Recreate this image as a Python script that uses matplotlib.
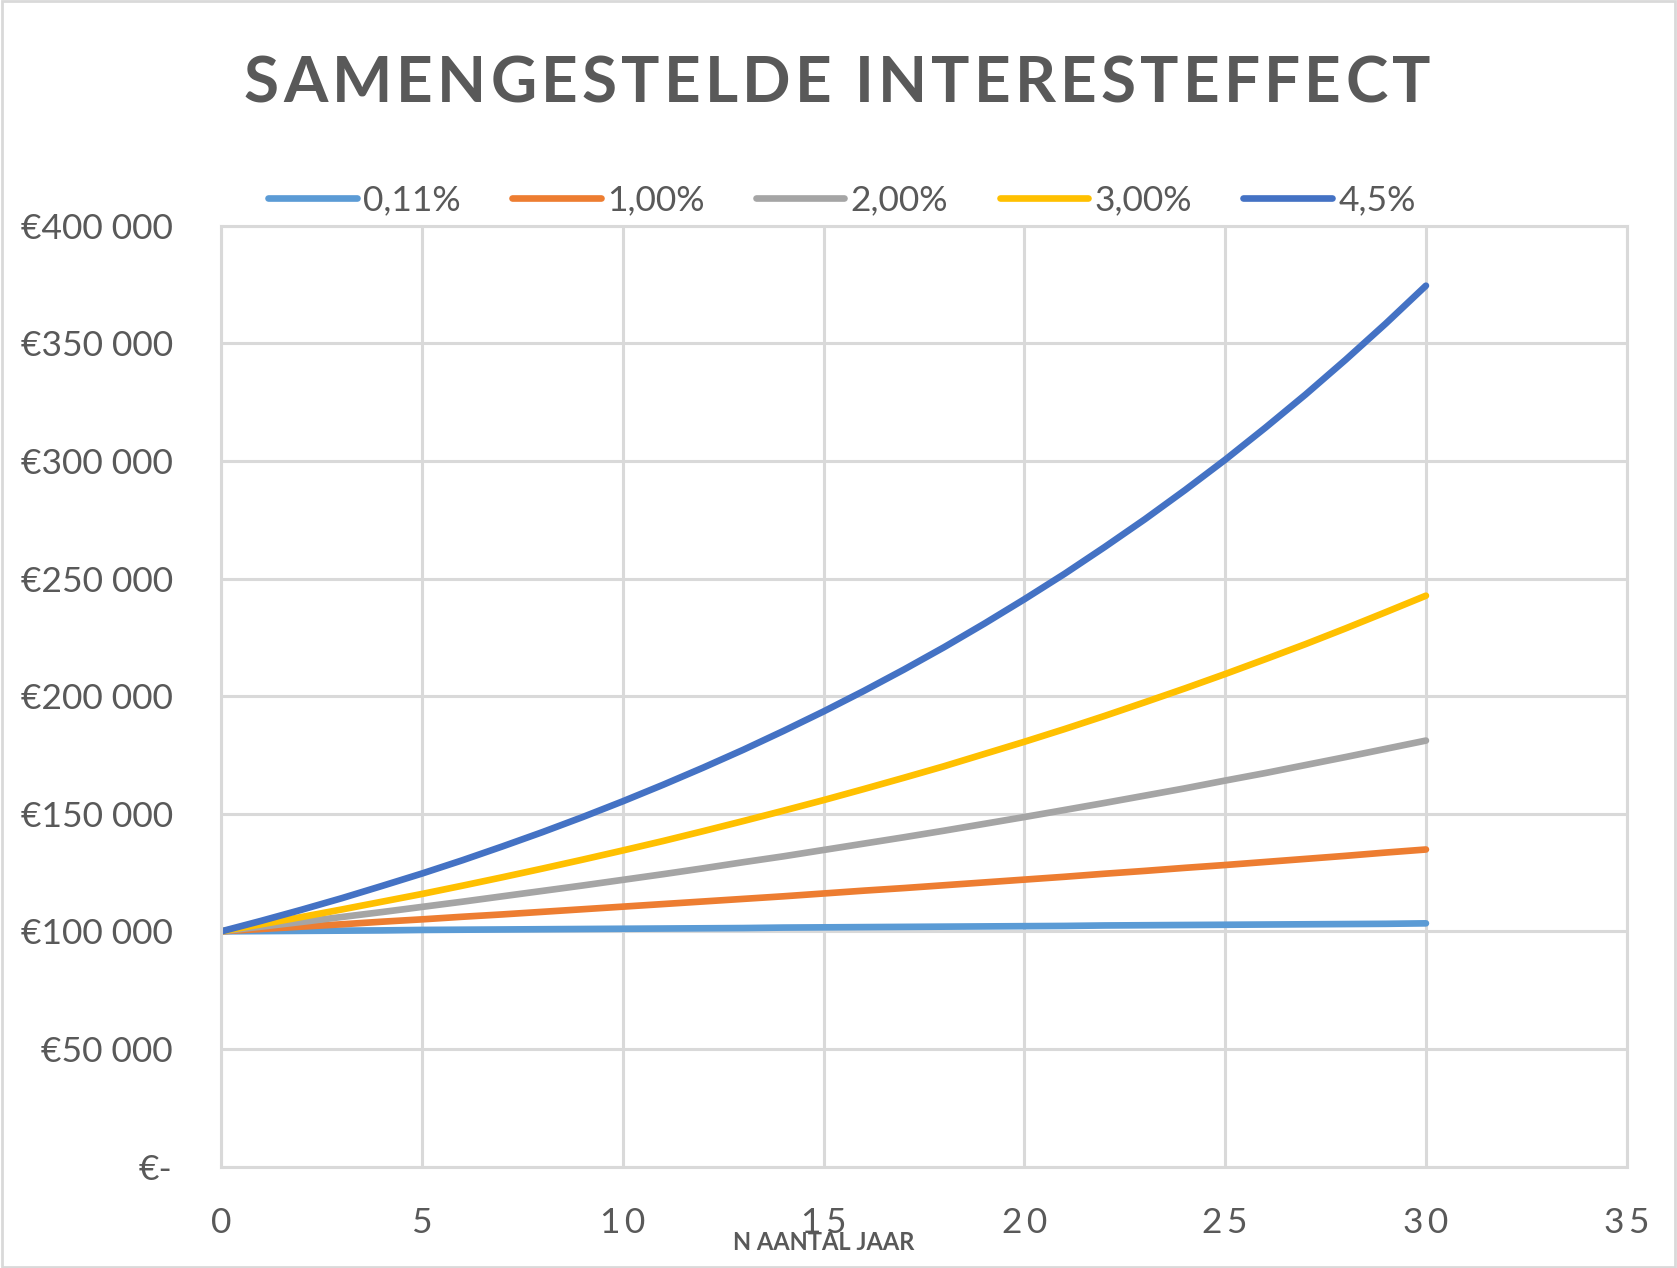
import matplotlib
matplotlib.use("Agg")
import matplotlib.pyplot as plt
from matplotlib.patches import Rectangle
from matplotlib.ticker import FuncFormatter, MultipleLocator

# ---- data ----
years = list(range(0, 31))

rate_011 = [100000, 100100, 100200, 100300, 100400, 100600, 100700, 100800, 100900, 101000,
            101100, 101200, 101300, 101400, 101600, 101700, 101800, 101900, 102000, 102100,
            102200, 102300, 102500, 102600, 102700, 102800, 102900, 103000, 103100, 103200,
            103400]
rate_100 = [100000, 101000, 102000, 103000, 104100, 105100, 106200, 107200, 108300, 109400,
            110500, 111600, 112700, 113800, 114900, 116100, 117300, 118400, 119600, 120800,
            122000, 123200, 124500, 125700, 127000, 128200, 129500, 130800, 132100, 133500,
            134800]
rate_200 = [100000, 102000, 104000, 106100, 108200, 110400, 112600, 114900, 117200, 119500,
            121900, 124300, 126800, 129400, 131900, 134600, 137300, 140000, 142800, 145700,
            148600, 151600, 154600, 157700, 160800, 164100, 167300, 170700, 174100, 177600,
            181100]
rate_300 = [100000, 103000, 106100, 109300, 112600, 115900, 119400, 123000, 126700, 130500,
            134400, 138400, 142600, 146900, 151300, 155800, 160500, 165300, 170200, 175400,
            180600, 186000, 191600, 197400, 203300, 209400, 215700, 222100, 228800, 235700,
            242700]
rate_450 = [100000, 104500, 109200, 114100, 119300, 124600, 130200, 136100, 142200, 148600,
            155300, 162300, 169600, 177200, 185200, 193500, 202200, 211300, 220800, 230800,
            241200, 252000, 263400, 275200, 287600, 300500, 314100, 328200, 343000, 358400,
            374500]

series_labels = ["0,11%", "1,00%", "2,00%", "3,00%", "4,5%"]
series_values = [rate_011, rate_100, rate_200, rate_300, rate_450]
series_colors = ["#5B9BD5", "#ED7D31", "#A5A5A5", "#FFC000", "#4472C4"]

title = "SAMENGESTELDE INTERESTEFFECT"
x_label = "N AANTAL JAAR"

TEXT = "#595959"
GRID = "#D9D9D9"
W, H = 1677, 1268

plt.rcParams["font.family"] = ["Lato", "DejaVu Sans"]

fig = plt.figure(figsize=(W / 100, H / 100), dpi=100)
ax = fig.add_axes([0.132, 0.080, 0.838, 0.742])

for vals, lab, col in zip(series_values, series_labels, series_colors):
    ax.plot(years, vals, color=col, lw=4.8, label=lab, solid_capstyle="round")

ax.set_xlim(0, 35)
ax.set_ylim(0, 400000)
ax.xaxis.set_major_locator(MultipleLocator(5))
ax.yaxis.set_major_locator(MultipleLocator(50000))


def euro(v, pos):
    if v == 0:
        return "€-"
    return "€" + f"{int(v):,}".replace(",", " ")


def spaced(v, pos):
    # Excel draws these digits with extra tracking
    return "\u2009".join(str(int(v)))


ax.yaxis.set_major_formatter(FuncFormatter(euro))
ax.xaxis.set_major_formatter(FuncFormatter(spaced))

ax.set_axisbelow(True)
ax.grid(True, color=GRID, lw=2.2)
for s in ax.spines.values():
    s.set_color(GRID)
    s.set_linewidth(2.2)
ax.tick_params(length=0, labelsize=25.5, colors=TEXT)
ax.tick_params(axis="y", pad=35)
ax.tick_params(axis="x", pad=29)


def tracked_text(s, x0, x1, yc, **kw):
    # draw a string letter by letter so that it fills x0..x1 (pixels)
    r = fig.canvas.get_renderer()
    widths = []
    for ch in s:
        if ch == " ":
            a = fig.text(0, 0, "AA", **kw)
            b = fig.text(0, 0, "A A", **kw)
            w = b.get_window_extent(r).width - a.get_window_extent(r).width
            a.remove()
            b.remove()
        else:
            t = fig.text(0, 0, ch, **kw)
            w = t.get_window_extent(r).width
            t.remove()
        widths.append(w)
    gap = (x1 - x0 - sum(widths)) / (len(s) - 1)
    x = x0
    for ch, w in zip(s, widths):
        if ch != " ":
            fig.text(x / W, yc, ch, ha="left", va="center", **kw)
        x += w + gap


tracked_text(title, 244, 1430, 1 - 84 / H, fontsize=46, fontweight="bold", color=TEXT)
fig.text(824 / W, 1 - 1242 / H, x_label, ha="center", va="center",
         fontsize=17, fontweight="bold", color=TEXT)

leg = fig.legend(loc="center", bbox_to_anchor=(842 / W, 1 - 200 / H), ncol=5,
                 frameon=False, fontsize=25.5, handlelength=2.5, handletextpad=0.18,
                 columnspacing=1.45, borderaxespad=0)
for t in leg.get_texts():
    t.set_color(TEXT)
for h in leg.get_lines():
    h.set_solid_capstyle("round")

fig.patches.append(Rectangle((0.001, 0.001), 0.998, 0.998, transform=fig.transFigure,
                             fill=False, edgecolor=GRID, lw=2))

fig.savefig("out.png", dpi=100)
